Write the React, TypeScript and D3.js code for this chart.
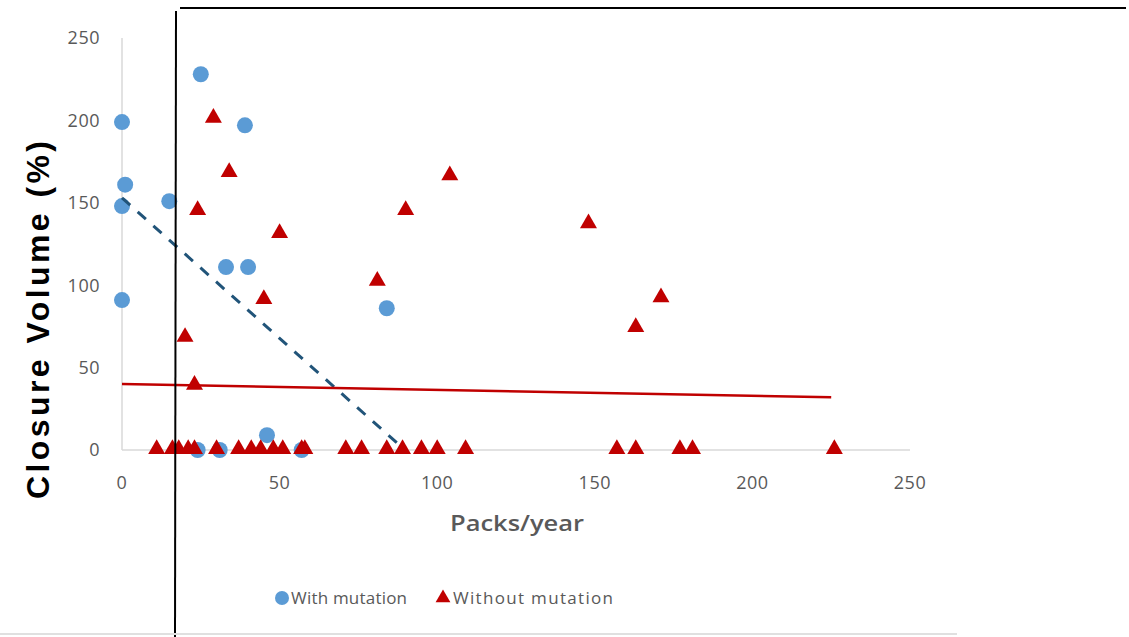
import { useMemo } from "react"
import * as d3 from "d3"

// With mutation (blue circles): [packs/year, closure volume]
const withX = [0, 1, 0, 0, 15, 25, 33, 39, 40, 84, 46, 57, 24, 31]
const withY = [199, 161, 148, 91, 151, 228, 111, 197, 111, 86, 9, 0, 0, 0]

// Without mutation (red triangles)
const withoutX = [
  29, 34, 24, 45, 50, 20, 23, 81, 90, 104, 148, 163, 171,
  11, 16, 18, 21, 23, 30, 37, 41, 44, 48, 51, 57, 58, 71, 76, 84, 89, 95, 100, 109,
  157, 163, 177, 181, 226,
]
const withoutY = [
  201, 168, 145, 91, 131, 68, 39, 102, 145, 166, 137, 74, 92,
  0, 0, 0, 0, 0, 0, 0, 0, 0, 0, 0, 0, 0, 0, 0, 0, 0, 0, 0, 0,
  0, 0, 0, 0, 0,
]

// trend lines (start, end)
const trendWithX = [0, 88]
const trendWithY = [153, 3]
const trendWithoutX = [0, 225]
const trendWithoutY = [40, 32]

const xTicks = [0, 50, 100, 150, 200, 250]
const yTicks = [0, 50, 100, 150, 200, 250]

const seriesNames = ["With mutation", "Without mutation"]

const W = 1129
const H = 637
const BLUE = "#5b9bd5"
const RED = "#c00000"
const GREY = "#595959"

export default function App() {
  const x = useMemo(() => d3.scaleLinear().domain([0, 250]).range([122, 910]), [])
  const y = useMemo(() => d3.scaleLinear().domain([0, 250]).range([450, 38]), [])

  const tri = d3.symbol().type(d3.symbolTriangle).size(125)()
  const triLegend = d3.symbol().type(d3.symbolTriangle).size(95)()
  const line = d3
    .line<[number, number]>()
    .x((d) => x(d[0]))
    .y((d) => y(d[1]))

  const font = "'Open Sans', 'DejaVu Sans', sans-serif"

  return (
    <svg width={W} height={H} style={{ display: "block", position: "absolute", left: 0, top: 0 }} fontFamily={font}>
      <rect width={W} height={H} fill="#fff" />

      {/* axes lines */}
      <line x1={x(0)} x2={x(0)} y1={y(250)} y2={y(0)} stroke="#d9d9d9" strokeWidth={1.5} />
      <line x1={x(0)} x2={x(250)} y1={y(0)} y2={y(0)} stroke="#d9d9d9" strokeWidth={1.5} />

      {yTicks.map((t) => (
        <text key={"y" + t} x={100} y={y(t)} dy="0.35em" textAnchor="end" fontSize={18} letterSpacing={0.5} fill={GREY}>
          {t}
        </text>
      ))}
      {xTicks.map((t) => (
        <text key={"x" + t} x={x(t)} y={483} dy="0.35em" textAnchor="middle" fontSize={18} letterSpacing={0.5} fill={GREY}>
          {t}
        </text>
      ))}

      {/* axis titles */}
      <text
        x={517}
        y={523}
        dy="0.35em"
        textAnchor="middle"
        fontSize={22}
        fontWeight={600}
        fill={GREY}
        textLength={134}
        lengthAdjust="spacingAndGlyphs"
      >
        Packs/year
      </text>
      <text
        transform="translate(38,320) rotate(-90)"
        textAnchor="middle"
        dy="0.35em"
        fontSize={32}
        fontWeight="bold"
        fill="#000"
        textLength={358}
        lengthAdjust="spacing"
        fontFamily="'Liberation Sans', Arial, sans-serif"
      >
        Closure Volume (%)
      </text>

      {/* points: with mutation */}
      {withX.map((v, i) => (
        <circle key={"w" + i} cx={x(v)} cy={y(withY[i])} r={8} fill={BLUE} />
      ))}

      {/* points: without mutation */}
      {withoutX.map((v, i) => (
        <path
          key={"n" + i}
          d={tri}
          transform={`translate(${x(v)},${y(withoutY[i]) - 1})`}
          fill={RED}
        />
      ))}

      {/* trend lines */}
      <path
        d={line(trendWithX.map((v, i) => [v, trendWithY[i]] as [number, number])) || ""}
        fill="none"
        stroke="#215479"
        strokeWidth={3}
        strokeDasharray="11 10"
      />
      <path
        d={line(trendWithoutX.map((v, i) => [v, trendWithoutY[i]] as [number, number])) || ""}
        fill="none"
        stroke={RED}
        strokeWidth={2.5}
      />

      {/* legend */}
      <circle cx={282} cy={598} r={7} fill={BLUE} />
      <text x={291} y={598} dy="0.35em" fontSize={17} fill={GREY} textLength={116} lengthAdjust="spacing">
        {seriesNames[0]}
      </text>
      <path d={triLegend} transform="translate(443,598)" fill={RED} />
      <text x={453} y={598} dy="0.35em" fontSize={17} fill={GREY} textLength={160} lengthAdjust="spacing">
        {seriesNames[1]}
      </text>

      {/* framing lines from the source image */}
      <line x1={176} x2={175} y1={11} y2={H} stroke="#000" strokeWidth={2} />
      <line x1={180} x2={1126} y1={8} y2={8} stroke="#000" strokeWidth={2} />
      <line x1={0} x2={957} y1={634} y2={634} stroke="#e0e0e0" strokeWidth={2} />
    </svg>
  )
}
